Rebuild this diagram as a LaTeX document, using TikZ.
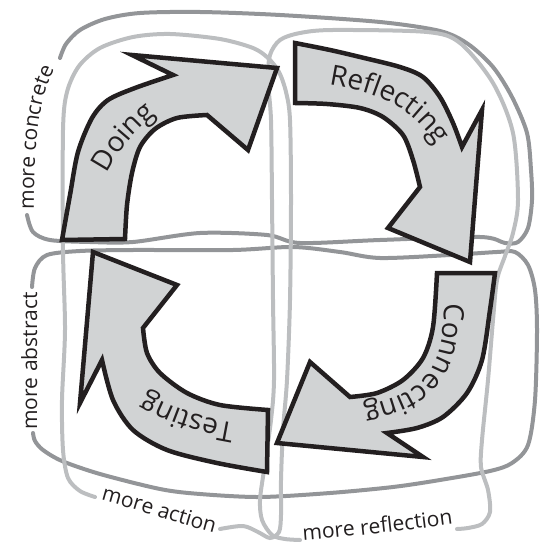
\documentclass[tikz,border=0pt]{standalone}
\usepackage{fontspec}
\setmainfont{Open Sans}
\usepackage{tikz}
\usetikzlibrary{decorations.text}
\definecolor{ink}{RGB}{35,31,32}
\definecolor{paper}{RGB}{209,211,212}
\definecolor{darkloop}{RGB}{147,149,152}
\definecolor{lightloop}{RGB}{188,190,192}
\newcommand{\phasefont}{\fontsize{28}{30}\selectfont}
\newcommand{\sidefont}{\fontsize{21}{24}\selectfont}

\begin{document}
\begin{tikzpicture}[
    x=1pt, y=-1pt,
    dark loop/.style={draw=darkloop, line width=4pt, line cap=round},
    light loop/.style={draw=lightloop, line width=4pt, line cap=round},
    phase/.style={draw=ink, fill=paper, line width=4.5pt, line join=miter},
    phase text/.style={decorate, decoration={text along path, text align=center,
            text color=ink, text={|\phasefont|#1}}},
    side text/.style={decorate, decoration={text along path, text align=center,
            text color=ink, text={|\sidefont|#1}}},
    ]
    \useasboundingbox (0,0) rectangle (539,545);

    % more concrete / more abstract
    \draw [dark loop] plot [smooth] coordinates {(27,215) (33,232) (50,240)
        (90,242) (133,242) (200,233) (267,235) (300,243) (380,240) (480,237)
        (505,243) (518,242) (528,228) (532,200) (531,170) (527,133) (512,97)
        (493,67) (468,44) (440,31) (380,22) (280,15) (200,12) (140,13)
        (105,19) (80,30) (66,44) (60,58)};
    \draw [dark loop] plot [smooth] coordinates {(32,287) (35,268) (47,255)
        (80,251) (133,250) (233,250) (293,247) (340,252) (380,258) (450,255)
        (497,252) (515,252) (528,265) (535,290) (537,330) (535,400) (528,445)
        (512,463) (490,471) (440,480) (393,487) (330,493) (260,497) (200,494)
        (160,489) (100,474) (62,461) (43,450) (35,441) (33,433)};

    % more action / more reflection
    \draw [light loop] plot [smooth] coordinates {(220,529) (243,526)
        (258,532) (270,538) (279,532) (281,515) (281,480) (283,430) (287,380)
        (290,300) (291,200) (290,120) (286,92) (279,72) (268,58) (253,48)
        (220,39) (170,34) (133,37) (100,48) (79,66) (67,92) (63,130) (63,250)
        (65,330) (62,400) (63,450) (68,478) (80,491) (95,497)};
    \draw [light loop] plot [smooth] coordinates {(300,540) (285,539)
        (272,535) (262,520) (260,500) (264,470) (271,420) (274,380) (273,300)
        (272,200) (271,120) (268,80) (270,55) (280,40) (300,33) (333,30)
        (427,32) (460,43) (493,83) (513,133) (518,200) (513,233) (505,256)
        (497,280) (493,320) (488,380) (482,440) (481,467) (488,490) (490,512)
        (482,524) (468,528) (457,529)};

    \path [side text={more concrete}] (34,220) .. controls (34,150) and (36,95) .. (60,60);
    \path [side text={more abstract}] (37,442) -- (37,280);
    \path [side text={more action}] (90,497) .. controls (140,510) and (180,525) .. (225,536);
    \path [side text={more reflection}] (296,541) .. controls (350,537) and (410,530) .. (460,523);

    % the four phases
    \filldraw [phase] plot [smooth] coordinates {(62,240) (70,195) (78,152)
        (92,118) (108,100) (135,88) (173,75)} -- (132,55) -- (277,68)
        -- (248,150) -- plot [smooth] coordinates {(207,115) (177,118)
        (155,129) (140,147) (132,173) (127,205) (125,239)} -- cycle;
    \filldraw [phase] plot [smooth] coordinates {(295,43) (330,50) (360,57)
        (400,67) (423,77) (440,97) (453,123) (462,147)} -- (482,110)
        -- (470,262) -- (388,228) -- plot [smooth] coordinates {(420,187)
        (413,160) (403,135) (383,117) (360,108) (327,104) (295,103)} -- cycle;
    \filldraw [phase] plot [smooth] coordinates {(495,273) (490,310)
        (482,360) (467,393) (443,417) (417,428) (387,433)} -- (423,457)
        -- (277,443) -- (310,362) -- plot [smooth] coordinates {(350,397)
        (377,393) (403,380) (423,358) (433,327) (437,273)} -- cycle;
    \filldraw [phase] plot [smooth] coordinates {(267,472) (217,463)
        (167,450) (133,430) (113,400) (102,360)} -- (80,403) -- (93,252)
        -- (177,285) -- plot [smooth] coordinates {(143,328) (147,353)
        (160,373) (187,393) (220,405) (268,410)} -- cycle;

    \path [phase text=Doing] (96,198) .. controls (110,160) and (135,125) .. (178,100);
    \path [phase text=Reflecting] (318,83) .. controls (370,90) and (415,103) .. (442,155);
    \path [phase text=Connecting] (444,292) .. controls (446,365) and (430,397) .. (352,408);
    \path [phase text=Testing] (248,425) .. controls (200,418) and (170,408) .. (135,386);
\end{tikzpicture}
\end{document}
